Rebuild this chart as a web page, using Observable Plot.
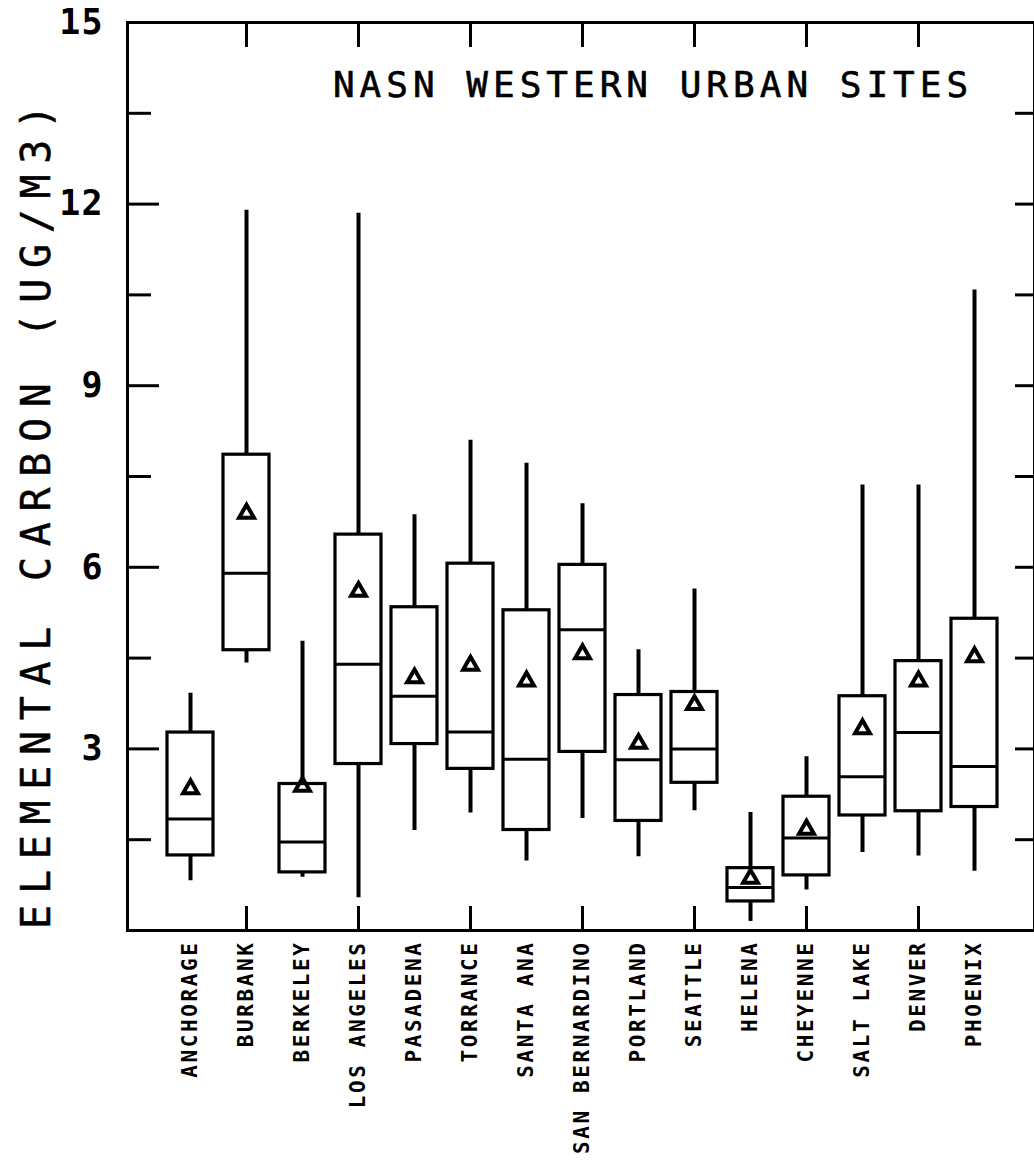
<!DOCTYPE html>
<html><head><meta charset="utf-8">
<script src="https://cdn.jsdelivr.net/npm/d3@7"></script>
<script src="https://cdn.jsdelivr.net/npm/@observablehq/plot@0.6"></script>
<style>
body{margin:0;background:#fff;}
svg text{font-family:"DejaVu Sans Mono",monospace;}
g[aria-label="x-axis tick label"]{letter-spacing:2.6px;}
g[aria-label="y-axis tick label"]{letter-spacing:1px;}
</style></head><body><div id="chart"></div>
<script>
const sites = ["ANCHORAGE","BURBANK","BERKELEY","LOS ANGELES","PASADENA","TORRANCE","SANTA ANA","SAN BERNARDINO","PORTLAND","SEATTLE","HELENA","CHEYENNE","SALT LAKE","DENVER","PHOENIX"];
const whiskerLow  = [0.82, 4.42, 0.88, 0.54, 1.65, 1.94, 1.15, 1.85, 1.22, 1.98, 0.15, 0.67, 1.29, 1.23, 0.98];
const q1          = [1.24, 4.63, 0.96, 2.75, 3.08, 2.67, 1.66, 2.95, 1.81, 2.44, 0.48, 0.91, 1.90, 1.97, 2.04];
const median      = [1.84, 5.90, 1.46, 4.40, 3.87, 3.28, 2.83, 4.97, 2.82, 3.00, 0.71, 1.53, 2.54, 3.27, 2.71];
const q3          = [3.27, 7.86, 2.42, 6.54, 5.34, 6.06, 5.29, 6.04, 3.89, 3.94, 1.03, 2.21, 3.87, 4.45, 5.15];
const whiskerHigh = [3.92, 11.90, 4.78, 11.85, 6.87, 8.10, 7.72, 7.05, 4.64, 5.64, 1.95, 2.87, 7.36, 7.36, 10.58];
const meanValue   = [2.34, 6.89, 2.38, 5.60, 4.17, 4.38, 4.12, 4.57, 3.09, 3.73, 0.86, 1.67, 3.33, 4.12, 4.52];
const majorTicks = [3, 6, 9, 12, 15];
const minorTicks = [1.5, 4.5, 7.5, 10.5, 13.5];
const rightTicks = [1.5, 3, 4.5, 6, 7.5, 9, 10.5, 12, 13.5];
const xTicks = sites.filter((d, i) => i % 2 === 1);
const title = "NASN WESTERN URBAN SITES";
const yTitle = "ELEMENTAL CARBON (UG/M3)";

const data = sites.map((site, i) => ({
  site, lo: whiskerLow[i], q1: q1[i], med: median[i], q3: q3[i], hi: whiskerHigh[i], mean: meanValue[i]
}));

const chart = Plot.plot({
  width: 1034, height: 1162,
  marginLeft: 127, marginRight: 0, marginTop: 22, marginBottom: 232,
  x: {type: "band", domain: sites, range: [134.8, 1028.7], paddingInner: 0.17, paddingOuter: 0.5, axis: null},
  y: {domain: [0, 15], axis: null},
  style: {fontFamily: "DejaVu Sans Mono", background: "white", color: "black"},
  marks: [
    Plot.frame({stroke: "black", strokeWidth: 3}),
    Plot.ruleX(data, {x: "site", y1: "lo", y2: "hi", stroke: "black", strokeWidth: 4}),
    Plot.barY(data, {x: "site", y1: "q1", y2: "q3", fill: "white", stroke: "black", strokeWidth: 3.2}),
    Plot.tickY(data, {x: "site", y: "med", stroke: "black", strokeWidth: 3}),
    Plot.dot(data, {x: "site", y: "mean", symbol: "triangle", r: 5.5, stroke: "black", strokeWidth: 4, fill: "none"}),
    Plot.axisY(majorTicks, {anchor: "left", tickSize: -32, text: null, strokeWidth: 3, label: null}),
    Plot.axisY(minorTicks, {anchor: "left", tickSize: -24, text: null, strokeWidth: 3, label: null}),
    Plot.axisY(rightTicks, {anchor: "right", tickSize: -20, text: null, strokeWidth: 3, label: null}),
    Plot.axisY(majorTicks, {anchor: "left", tickSize: 0, tickPadding: 24, fontSize: 35, fontWeight: "bold", tickFormat: d3.format("d"), label: null}),
    Plot.axisX(xTicks, {anchor: "bottom", tickSize: -24, text: null, strokeWidth: 3, label: null}),
    Plot.axisX(xTicks, {anchor: "top", tickSize: -24, text: null, strokeWidth: 3, label: null}),
    Plot.axisX({anchor: "bottom", tickSize: 0, tickPadding: 10, tickRotate: -90, fontSize: 21, fontWeight: "bold", label: null}),
    Plot.text([title], {frameAnchor: "top", dx: 72, dy: 63, lineAnchor: "middle", textAnchor: "middle", fontSize: 36, fill: "black", stroke: "black", strokeWidth: 0.6}),
    Plot.text([yTitle], {frameAnchor: "left", rotate: -90, dx: -90, dy: 35, textAnchor: "middle", lineAnchor: "middle", fontSize: 40, fill: "black", stroke: "black", strokeWidth: 0.5})
  ]
});
d3.select(chart).selectAll("text").each(function() {
  const t = this.textContent;
  if (t === title) this.style.letterSpacing = "5px";
  if (t === yTitle) this.style.letterSpacing = "10.7px";
});
document.getElementById("chart").append(chart);
</script></body></html>
